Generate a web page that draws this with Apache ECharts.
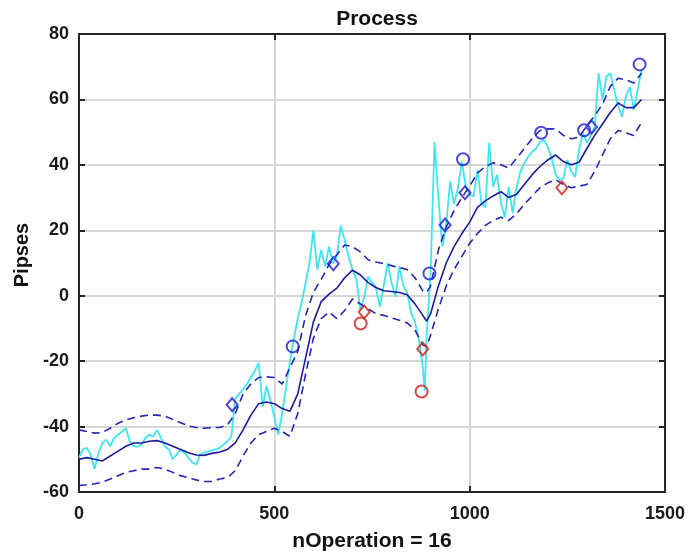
<!DOCTYPE html>
<html>
<head>
<meta charset="utf-8">
<script src="https://cdn.jsdelivr.net/npm/echarts@6/dist/echarts.min.js"></script>
<style>
html,body{margin:0;padding:0;background:#fff;}
#chart{width:689px;height:557px;}
</style>
</head>
<body>
<div id="chart"></div>
<script>
// ---- data ----
const xTicks = [0, 500, 1000, 1500];
const yTicks = [-60, -40, -20, 0, 20, 40, 60, 80];

const cyanX = [0,10,20,30,40,50,60,70,80,90,100,110,120,130,140,150,160,170,180,190,200,210,220,230,240,250,260,270,280,290,300,310,320,330,340,350,360,370,380,390,400,410,420,430,440,450,460,470,480,490,500,510,520,530,540,550,560,570,580,590,600,610,620,630,640,650,660,670,680,690,700,710,720,730,740,750,760,770,780,790,800,810,820,830,840,850,860,870,880,885,890,900,910,920,930,940,950,960,970,980,990,1000,1010,1020,1030,1040,1050,1060,1070,1080,1090,1100,1110,1120,1130,1140,1150,1160,1170,1180,1190,1200,1210,1220,1230,1240,1250,1260,1270,1280,1290,1300,1310,1320,1330,1340,1350,1360,1370,1380,1390,1400,1410,1420,1430,1440];
const cyanY = [-49.5,-47,-46.5,-48.6,-53,-48,-45,-44,-46,-43.5,-42.5,-41.5,-40.5,-44.5,-46,-46.2,-45.5,-43.5,-42.5,-43,-41,-43.5,-46,-47,-50,-48.5,-47,-48,-49.5,-51,-51.6,-48.5,-48,-47.6,-47.3,-47,-46.5,-45.5,-44.5,-43,-31.5,-30,-28.7,-27,-25,-23,-20.5,-34,-27.6,-32,-37,-42.5,-36,-28,-20,-13,-7,-2,4,10,20,8,14,9,15,10,12,21.5,17,12,8,5,-4.3,-0.5,5.8,4,2.5,-3.4,3,10,4,-0.3,9,3,1,-5.2,-8,-13.4,-22,-29,-12,7,47,30,15,22,35,28,33,41,33.4,31,30.3,38.5,28.4,27,46.7,33.3,37,28.4,24,33.3,25.3,33,38,40.6,42.5,44,45,47,47.6,45.5,42,37,35.4,36,41.5,38,36.3,44.6,49.8,46.7,49,51.6,68,60,67,68,62.9,58,54.7,61,63.8,56.8,62.9,69];

const bandX = [0,20,40,60,80,100,120,140,160,180,200,220,240,260,280,300,320,340,360,380,400,420,440,460,480,500,520,540,560,580,600,620,640,660,680,700,720,740,760,780,800,820,840,860,880,890,900,920,940,960,980,1000,1020,1040,1060,1080,1100,1120,1140,1160,1180,1200,1220,1240,1260,1280,1300,1320,1340,1360,1380,1400,1420,1440];
const midY = [-50,-49.5,-50,-50.5,-49,-47.5,-46,-45,-45,-44.5,-44.3,-45,-46,-47,-48,-48.7,-48.8,-48.2,-47.8,-47,-45,-41,-36.5,-33,-32.5,-33,-34.5,-35.3,-30,-19,-8,-1.8,0.5,2.3,5.5,7.8,6.4,4,2.5,1.5,1.3,1,0.3,-2.5,-6,-7.8,-5.5,3,10,15,19,22.5,27,29,30.5,31.8,30,31,34,37,39.5,41.5,43,41,40,40.8,45,49,52.5,56,58.9,57.5,57.5,60];
const upperY = [-41,-41.5,-42,-41.8,-40.5,-39,-38,-37.3,-36.8,-36.5,-36.5,-36.8,-37.8,-38.8,-39.8,-40.3,-40.5,-40.3,-40.3,-39.5,-36,-30,-27,-25,-24.8,-25,-27,-22,-17,-6,1,5,9.5,12.5,15.5,15,13.4,11,10.3,9.8,9.2,8.6,8,5.5,1.5,0.9,3,14,21,26,30,33.5,37.5,39.5,40.6,40,39,42,45,48,50.5,51,51,49,48,48.5,52,55,58.5,64,66.5,66,65,68];
const lowerY = [-58,-57.8,-57.5,-57,-56,-55,-54,-53.5,-53,-53,-52.5,-53,-54,-55,-55.6,-56.3,-56.8,-56.8,-56,-55.6,-53.5,-49,-45,-42.5,-41.5,-40.5,-41.5,-43,-36,-24,-13,-7,-5,-7,-4.5,-1,-2.5,-4,-5.5,-6,-6.8,-7.5,-8.3,-10.5,-15,-15.5,-12,-4,3,8,12,16,19,21.5,23,24,23,25,28,30.5,33,34.5,35.5,34,33,33.5,34,38,43,48,50.5,49.8,49,53];

const blueCircles = [[547,-15.5],[897,6.8],[983,41.7],[1183,49.8],[1293,50.6],[1435,70.7]];
const blueDiamonds = [[392,-33.3],[651,9.8],[937,21.6],[988,31.5],[1312,51.6]];
const redCircles = [[721,-8.5],[877,-29.3]];
const redDiamonds = [[730,-5],[880,-16.3],[1236,33]];

// ---- chart ----
const zip = (xs, ys) => xs.map((x, i) => [x, ys[i]]);
const FONT = "'Liberation Sans', Arial, Helvetica, sans-serif";
const AX = '#262626';
const BLUE = '#1c1cd2';
const RED = '#c82020';

const chart = echarts.init(document.getElementById('chart'), null, {renderer: 'canvas'});

const baseX = {
  type: 'value', min: xTicks[0], max: xTicks[xTicks.length - 1], interval: 500
};
const baseY = {
  type: 'value', min: yTicks[0], max: yTicks[yTicks.length - 1], interval: 20
};
const tick = {show: true, inside: true, length: 6, lineStyle: {color: AX, width: 2}};
const line = {show: true, onZero: false, lineStyle: {color: AX, width: 2}};
const fmt = v => String(v);
const lblX = {fontSize: 18, fontWeight: 'bold', color: '#1a1a1a', fontFamily: FONT, margin: 13, formatter: fmt};
const lblY = {fontSize: 18, fontWeight: 'bold', color: '#1a1a1a', fontFamily: FONT, margin: 10, formatter: fmt};

chart.setOption({
  animation: false,
  backgroundColor: '#ffffff',
  title: {
    text: 'Process', left: 372, top: 4, textAlign: 'center',
    textStyle: {fontSize: 21, fontWeight: 'bold', color: '#111', fontFamily: FONT}
  },
  grid: {left: 79, right: 24, top: 34, bottom: 65, containLabel: false},
  xAxis: [
    Object.assign({}, baseX, {
      position: 'bottom', axisLine: line, axisTick: tick, axisLabel: lblX,
      splitLine: {show: true, lineStyle: {color: '#d8d8d8', width: 2}},
      name: 'nOperation = 16', nameLocation: 'middle', nameGap: 39,
      nameTextStyle: {fontSize: 21, fontWeight: 'bold', color: '#111', fontFamily: FONT}
    }),
    Object.assign({}, baseX, {
      position: 'top', axisLine: line, axisTick: tick,
      axisLabel: {show: false}, splitLine: {show: false}
    })
  ],
  yAxis: [
    Object.assign({}, baseY, {
      position: 'left', axisLine: line, axisTick: tick, axisLabel: lblY,
      splitLine: {show: true, lineStyle: {color: '#d8d8d8', width: 2}},
      name: 'Pipses', nameLocation: 'middle', nameGap: 46, nameRotate: 90,
      nameTextStyle: {fontSize: 20, fontWeight: 'bold', color: '#111', fontFamily: FONT, padding: [0, 0, 0, 16]}
    }),
    Object.assign({}, baseY, {
      position: 'right', axisLine: line, axisTick: tick,
      axisLabel: {show: false}, splitLine: {show: false}
    })
  ],
  series: [
    {
      type: 'line', data: zip(cyanX, cyanY), showSymbol: false, symbol: 'none',
      lineStyle: {color: '#3ee6f2', width: 1.8}, z: 2
    },
    {
      type: 'line', data: zip(bandX, midY), showSymbol: false, symbol: 'none',
      lineStyle: {color: '#1c1c9c', width: 1.6}, z: 3
    },
    {
      type: 'line', data: zip(bandX, upperY), showSymbol: false, symbol: 'none',
      lineStyle: {color: '#2626b8', width: 1.6, type: [8, 5]}, z: 3
    },
    {
      type: 'line', data: zip(bandX, lowerY), showSymbol: false, symbol: 'none',
      lineStyle: {color: '#2626b8', width: 1.6, type: [8, 5]}, z: 3
    },
    {
      type: 'scatter', data: blueCircles, symbol: 'circle', symbolSize: 12,
      itemStyle: {color: 'rgba(0,0,0,0)', borderColor: BLUE, borderWidth: 2}, z: 5
    },
    {
      type: 'scatter', data: blueDiamonds, symbol: 'diamond', symbolSize: [11, 13],
      itemStyle: {color: 'rgba(0,0,0,0)', borderColor: BLUE, borderWidth: 2}, z: 5
    },
    {
      type: 'scatter', data: redCircles, symbol: 'circle', symbolSize: 12,
      itemStyle: {color: 'rgba(0,0,0,0)', borderColor: RED, borderWidth: 2}, z: 5
    },
    {
      type: 'scatter', data: redDiamonds, symbol: 'diamond', symbolSize: [11, 13],
      itemStyle: {color: 'rgba(0,0,0,0)', borderColor: RED, borderWidth: 2}, z: 5
    }
  ]
});
</script>
</body>
</html>
